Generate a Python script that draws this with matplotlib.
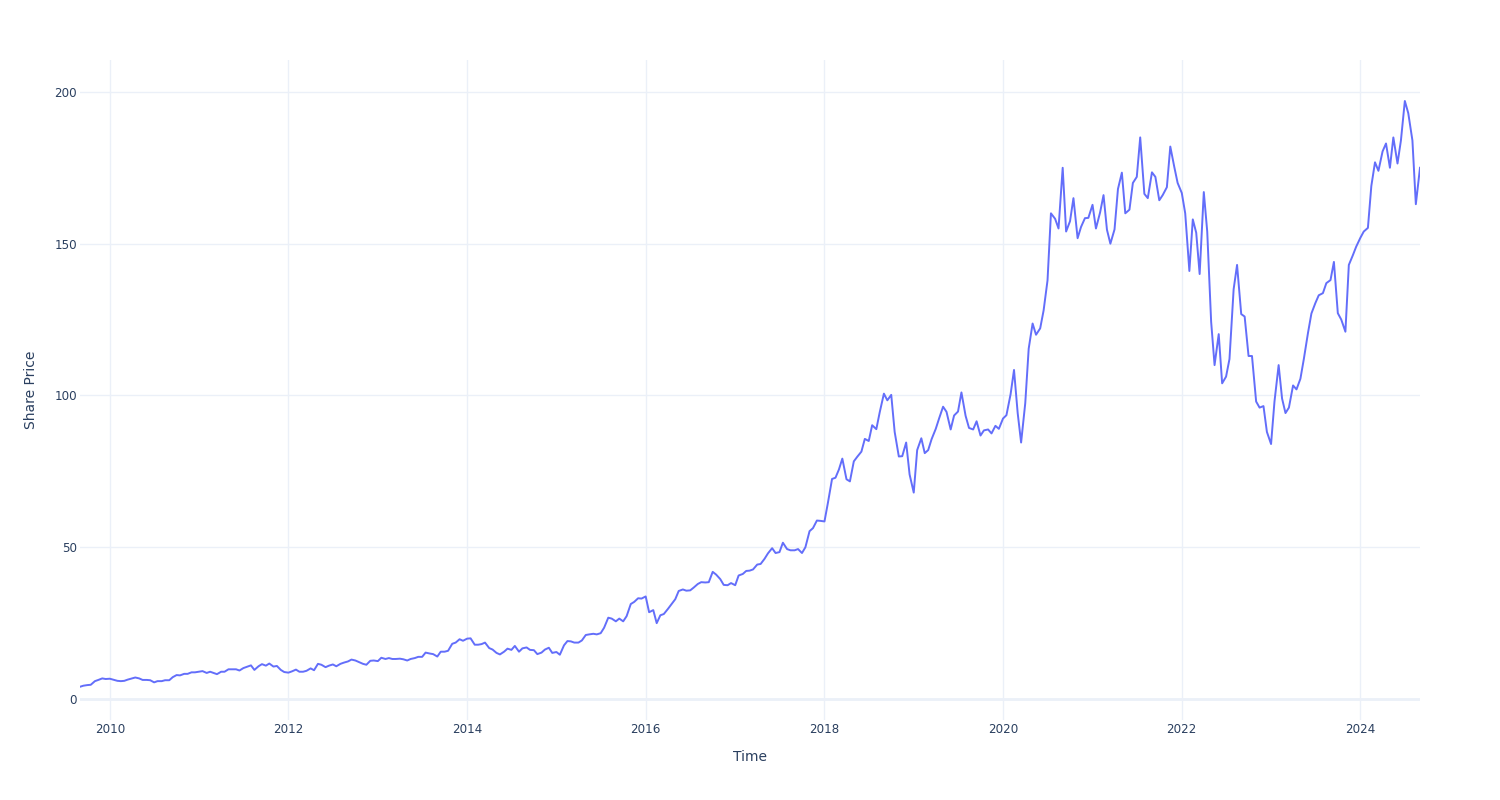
import matplotlib
matplotlib.use("Agg")
import matplotlib.pyplot as plt
import matplotlib.dates as mdates
import pandas as pd

p2009 = [4.05, 4.4, 4.6, 4.7, 5.9, 6.3, 6.8, 6.6]
p2010 = [6.7, 6.4, 6.0, 5.9, 6.0, 6.4, 6.8, 7.1, 6.8, 6.3, 6.3, 6.2,
         5.5, 5.9, 5.9, 6.2, 6.2, 7.2, 7.9, 7.8, 8.3, 8.3, 8.8, 8.8]
p2011 = [9.0, 9.2, 8.6, 9.0, 8.6, 8.2, 9.0, 9.0, 9.8, 9.8, 9.8, 9.4,
         10.2, 10.6, 11.1, 9.6, 10.8, 11.5, 11.0, 11.7, 10.7, 10.9, 9.6, 8.9]
p2012 = [8.7, 9.1, 9.7, 9.0, 9.0, 9.3, 10.1, 9.5, 11.6, 11.3, 10.5, 11.0,
         11.4, 10.8, 11.6, 12.0, 12.4, 13.0, 12.7, 12.2, 11.6, 11.3, 12.6, 12.7]
p2013 = [12.5, 13.6, 13.2, 13.5, 13.2, 13.2, 13.3, 13.1, 12.7, 13.2, 13.5, 13.9,
         13.9, 15.3, 15.0, 14.8, 14.0, 15.6, 15.6, 15.9, 18.2, 18.6, 19.7, 19.2]
p2014 = [19.9, 20.0, 17.9, 17.9, 18.1, 18.6, 16.8, 16.3, 15.2, 14.7, 15.6, 16.6,
         16.2, 17.5, 15.6, 16.7, 17.0, 16.2, 16.1, 14.8, 15.3, 16.3, 16.9, 15.2]
p2015 = [15.5, 14.6, 17.7, 19.1, 19.0, 18.6, 18.6, 19.3, 21.1, 21.3, 21.5, 21.3,
         21.7, 23.5, 26.8, 26.5, 25.6, 26.5, 25.6, 27.3, 31.3, 32.0, 33.2, 33.1]
p2016 = [33.8, 28.6, 29.3, 25.0, 27.6, 28.0, 29.7, 31.2, 32.9, 35.6, 36.1, 35.7,
         35.8, 36.7, 37.9, 38.5, 38.4, 38.5, 41.9, 41.0, 39.5, 37.6, 37.5, 38.2]
p2017 = [37.5, 40.7, 41.2, 42.2, 42.3, 42.7, 44.3, 44.5, 46.2, 48.0, 49.7, 48.1,
         48.4, 51.5, 49.4, 49.0, 49.0, 49.4, 48.1, 50.0, 55.3, 56.3, 58.8, 58.7]
p2018 = [58.5, 64.6, 72.5, 72.9, 75.6, 79.2, 72.4, 71.7, 78.3, 79.8, 81.5, 85.7,
         85.0, 90.2, 88.9, 94.5, 100.6, 98.4, 100.2, 88.0, 79.9, 80.0, 84.5, 74.0]
p2019 = [68.0, 82.0, 85.9, 81.0, 82.0, 85.6, 89.0, 92.5, 96.3, 94.6, 88.8, 93.4,
         94.7, 101.0, 93.3, 89.3, 88.8, 91.5, 86.8, 88.5, 88.8, 87.5, 90.0, 89.0]
p2020 = [92.4, 93.5, 100.4, 108.4, 94.2, 84.5, 97.5, 115.4, 123.7, 120.0, 122.1, 128.0,
         137.9, 160.0, 158.2, 155.0, 175.0, 154.0, 157.4, 165.0, 151.8, 155.5, 158.4, 158.5]
p2021 = [162.8, 155.0, 160.3, 166.0, 154.6, 150.0, 154.7, 168.0, 173.4, 160.0, 161.2, 170.0,
         172.0, 185.0, 166.4, 165.0, 173.5, 172.0, 164.3, 166.0, 168.6, 182.0, 175.4, 170.0]
p2022 = [166.7, 160.0, 141.0, 158.0, 153.6, 140.0, 167.0, 154.0, 124.3, 110.0, 120.2, 104.0,
         106.2, 112.0, 135.0, 143.0, 126.8, 126.0, 113.0, 113.0, 98.0, 96.0, 96.5, 88.0]
p2023 = [84.0, 98.0, 110.0, 99.0, 94.2, 96.0, 103.3, 102.0, 105.5, 112.0, 120.6, 127.0,
         130.4, 133.0, 133.7, 137.0, 138.0, 144.0, 127.1, 125.0, 121.0, 143.0, 146.1, 149.0]
p2024 = [151.9, 154.0, 155.2, 169.0, 176.8, 174.0, 180.4, 183.0, 175.0, 185.0, 176.4, 184.0,
         197.0, 193.0, 184.0, 163.0, 175.0]

prices = p2009 + p2010 + p2011 + p2012 + p2013 + p2014 + p2015 + p2016 + \
    p2017 + p2018 + p2019 + p2020 + p2021 + p2022 + p2023 + p2024
dates = pd.date_range("2009-09-01", "2024-09-01", freq="SMS")

font_color = "#2a3f5f"
grid_color = "#EBF0F8"

plt.rcParams["font.family"] = ["DejaVu Sans"]

fig = plt.figure(figsize=(15, 8), dpi=100)
ax = fig.add_axes([80 / 1500, 80 / 800, 1340 / 1500, 660 / 800])

ax.plot(dates, prices, color="#636EFA", linewidth=1.4, zorder=3)

ax.set_xlim(dates[0], dates[-1])
ax.set_ylim(-6.9, 210.5)
ax.set_yticks([0, 50, 100, 150, 200])
ax.xaxis.set_major_locator(mdates.YearLocator(2))
ax.xaxis.set_major_formatter(mdates.DateFormatter("%Y"))

ax.grid(True, color=grid_color, linewidth=1)
ax.axhline(0, color=grid_color, linewidth=2, zorder=2)
for s in ax.spines.values():
    s.set_visible(False)
ax.tick_params(length=0, labelsize=8.6, colors=font_color, pad=2)
ax.tick_params(axis="x", pad=2.5)

ax.set_xlabel("Time", fontsize=10, color=font_color, labelpad=10)
ax.set_ylabel("Share Price", fontsize=10, color=font_color, labelpad=12)

fig.savefig("out.png", dpi=100, facecolor="white")
